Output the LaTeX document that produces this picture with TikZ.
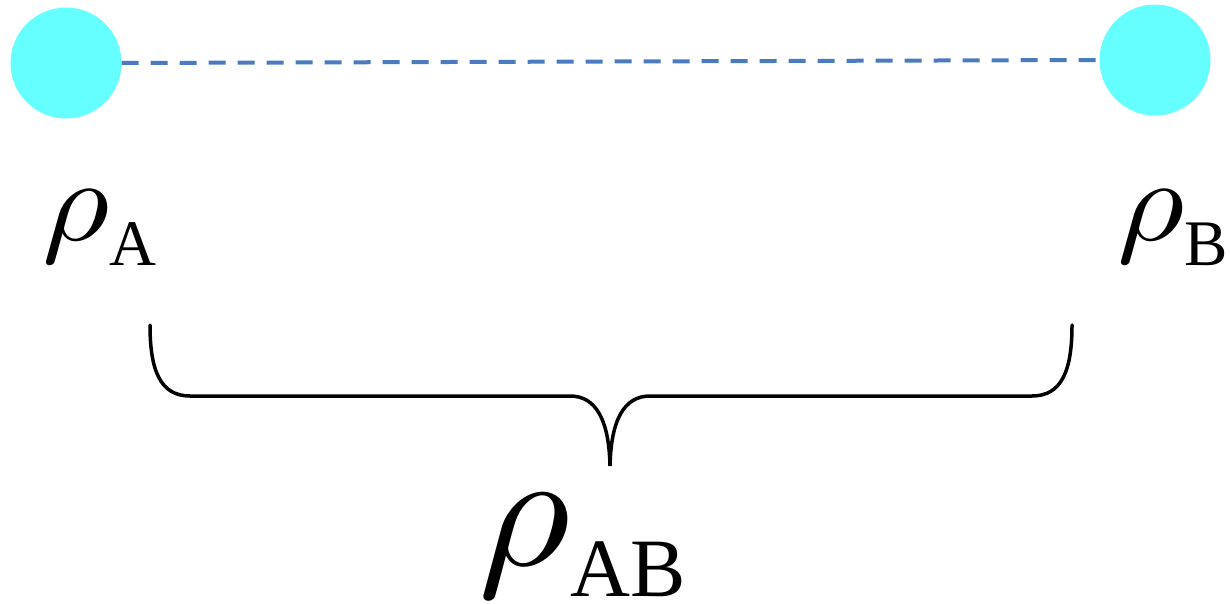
\documentclass[tikz,border=0pt]{standalone}
\usepackage{fontspec}
\setmainfont{Liberation Serif}
\definecolor{ballc}{HTML}{66FFFF}
\definecolor{linkc}{HTML}{4A7BBF}
\newcommand{\myrho}[2]{\scalebox{#1}[#2]{$\rho$}}
\begin{document}
\begin{tikzpicture}[x=1pt,y=-1pt,
  ball/.style={circle,fill=ballc,draw=none,minimum size=111pt,inner sep=0pt},
  link/.style={draw=linkc,line width=4pt,dash pattern=on 17pt off 12pt},
  brace/.style={draw=black,line width=3.5pt,line cap=round},
  lbl/.style={anchor=base west,inner sep=0pt}]
\useasboundingbox (0,0) rectangle (1230,603);
\node[ball] (A) at (66,63) {};
\node[ball] (B) at (1155,60) {};
\draw[link] (A.east) -- (B.west);
\node[lbl] (rA) at (42,240) {\myrho{13.0}{11.7}\raisebox{-25pt}{\fontsize{65}{65}\selectfont A}};
\node[lbl] (rB) at (1117,240) {\myrho{13.0}{11.7}\raisebox{-25pt}{\fontsize{65}{65}\selectfont B}};
\coordinate (bl) at (150,325);
\coordinate (br) at (1072,325);
\coordinate (tip) at (610,466);
\draw[brace] (bl) .. controls (150,370) and (160,396) .. (190,396) -- (570,396)
  .. controls (596,396) and (609,420) .. (tip)
  .. controls (611,420) and (624,396) .. (650,396) -- (1032,396)
  .. controls (1062,396) and (1072,370) .. (br);
\node[lbl] (rAB) at (478,565) {\myrho{17.8}{16.6}\raisebox{-31pt}{\fontsize{83}{83}\selectfont AB}};
\end{tikzpicture}
\end{document}
